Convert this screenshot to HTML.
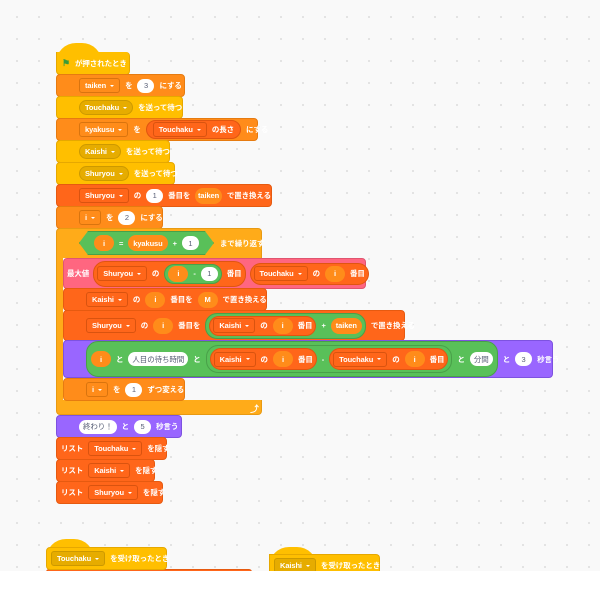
<!DOCTYPE html>
<html><head><meta charset="utf-8"><style>
*{box-sizing:border-box;margin:0;padding:0}
body{width:600px;height:600px;overflow:hidden;background:#fff;font-family:"Liberation Sans","Noto Sans CJK JP",sans-serif;font-weight:bold;font-size:7.5px;color:#fff;letter-spacing:-0.1px}
#cv{position:absolute;left:0;top:0;width:600px;height:571px;background-color:#f9f9f9;background-image:radial-gradient(#dcdcdc 0.8px,transparent 1px);background-size:22px 22px;background-position:6px 6px}
.b{position:absolute;display:flex;align-items:center;gap:5px;white-space:nowrap;border-radius:4px}
.y{background:#ffbf00;border:1px solid #e6a800}
.c{background:#ffab19;border:1px solid #e89a12}
.v{background:#ff8c1a;border:1px solid #e67b10}
.l{background:#ff661a;border:1px solid #e65a10}
.p{background:#9966ff;border:1px solid #7d52e0}
.k{background:#ff6680;border:1px solid #e05570}
.dd{display:inline-flex;align-items:center;height:15px;padding:0 5px;border-radius:3px;gap:4px}
.dd:after{content:"";border-left:2.5px solid transparent;border-right:2.5px solid transparent;border-top:2.5px solid #fff}
.dl{background:#ff661a;border:1px solid #d9530f}
.dv{background:#ff8c1a;border:1px solid #d9740e}
.dy{background:#e6ac00;border:1px solid #cc9900;border-radius:8px}
.n{display:inline-flex;align-items:center;justify-content:center;height:14px;min-width:17px;padding:0 4px;border-radius:7px;background:#fff;color:#575e75;font-weight:normal}
.r{display:inline-flex;align-items:center;justify-content:center;height:16px;min-width:20px;padding:0 5px;border-radius:8px;background:#ff8c1a}
.g{display:inline-flex;align-items:center;gap:5px;padding:2px 3px;border-radius:12px;background:#59c059;border:1px solid #49a049}
.ol{display:inline-flex;align-items:center;gap:5px;padding:2px 3px;border-radius:12px;background:#ff661a;border:1px solid #e05510}
</style></head><body>
<div id="cv"></div>
<!-- hat -->
<div class="b y" style="left:56px;top:43px;width:46px;height:20px;border-radius:23px 23px 0 0;border:none"></div>
<div class="b y" style="left:56px;top:52px;width:74px;height:23px;border-top:none;border-radius:0 4px 4px 4px;padding-left:5px"><span style="color:#3a9b3a;font-size:9px">⚑</span> が押されたとき</div>
<div class="b v" style="left:56px;top:74px;width:129px;height:23px;padding-left:22px"><span class="dd dv">taiken</span>を<span class="n">3</span>にする</div>
<div class="b y" style="left:56px;top:96px;width:127px;height:23px;padding-left:22px"><span class="dd dy">Touchaku</span>を送って待つ</div>
<div class="b v" style="left:56px;top:118px;width:202px;height:23px;padding-left:22px"><span class="dd dv">kyakusu</span>を<span class="ol" style="padding:1px 6px"><span class="dd dl">Touchaku</span>の長さ</span>にする</div>
<div class="b y" style="left:56px;top:140px;width:114px;height:23px;padding-left:22px"><span class="dd dy">Kaishi</span>を送って待つ</div>
<div class="b y" style="left:56px;top:162px;width:119px;height:23px;padding-left:22px"><span class="dd dy">Shuryou</span>を送って待つ</div>
<div class="b l" style="left:56px;top:184px;width:216px;height:23px;padding-left:22px"><span class="dd dl">Shuryou</span>の<span class="n">1</span>番目を<span class="r">taiken</span>で置き換える</div>
<div class="b v" style="left:56px;top:206px;width:107px;height:23px;padding-left:22px"><span class="dd dv">i</span>を<span class="n">2</span>にする</div>
<!-- repeat -->
<div class="b c" style="left:56px;top:228px;width:206px;height:187px;border-radius:4px"></div>
<div class="b" style="left:63px;top:258px;width:199px;height:142px;background:#f9f9f9;border-radius:0"></div>
<div class="b" style="left:79px;top:231px;gap:6px"><span class="g" style="clip-path:polygon(9px 0,calc(100% - 9px) 0,100% 50%,calc(100% - 9px) 100%,9px 100%,0 50%);padding:3px 14px;border-radius:0"><span class="r">i</span>=<span class="r">kyakusu</span>+<span class="n">1</span></span>まで繰り返す</div>
<div class="b" style="left:250px;top:402px;font-size:9px">⤴</div>
<div class="b k" style="left:63px;top:258px;width:303px;height:31px;padding-left:3px;gap:4px">最大値<span class="ol"><span class="dd dl">Shuryou</span>の<span class="g" style="padding:1px 3px"><span class="r">i</span>-<span class="n">1</span></span>番目</span><span class="ol"><span class="dd dl">Touchaku</span>の<span class="r">i</span>番目</span></div>
<div class="b l" style="left:63px;top:288px;width:204px;height:23px;padding-left:22px"><span class="dd dl">Kaishi</span>の<span class="r">i</span>番目を<span class="r">M</span>で置き換える</div>
<div class="b l" style="left:63px;top:310px;width:342px;height:31px;padding-left:22px"><span class="dd dl">Shuryou</span>の<span class="r">i</span>番目を<span class="g"><span class="ol" style="padding:1px 3px"><span class="dd dl">Kaishi</span>の<span class="r">i</span>番目</span>+<span class="r">taiken</span></span>で置き換える</div>
<div class="b p" style="left:63px;top:340px;width:490px;height:38px;padding-left:22px"><span class="g" style="padding:3px 4px"><span class="r">i</span>と<span class="n">人目の待ち時間</span>と<span class="g" style="padding:2px 3px"><span class="ol"><span class="dd dl">Kaishi</span>の<span class="r">i</span>番目</span>-<span class="ol"><span class="dd dl">Touchaku</span>の<span class="r">i</span>番目</span></span>と<span class="n">分間</span></span>と<span class="n">3</span>秒言う</div>
<div class="b v" style="left:63px;top:378px;width:122px;height:23px;padding-left:22px"><span class="dd dv">i</span>を<span class="n">1</span>ずつ変える</div>
<div class="b p" style="left:56px;top:415px;width:126px;height:23px;padding-left:22px"><span class="n">終わり！</span>と<span class="n">5</span>秒言う</div>
<div class="b l" style="left:56px;top:437px;width:111px;height:23px;padding-left:4px">リスト<span class="dd dl">Touchaku</span>を隠す</div>
<div class="b l" style="left:56px;top:459px;width:99px;height:23px;padding-left:4px">リスト<span class="dd dl">Kaishi</span>を隠す</div>
<div class="b l" style="left:56px;top:481px;width:107px;height:23px;padding-left:4px">リスト<span class="dd dl">Shuryou</span>を隠す</div>
<!-- bottom hats -->
<div class="b y" style="left:46px;top:539px;width:48px;height:20px;border-radius:23px 23px 0 0;border:none"></div>
<div class="b l" style="left:46px;top:569px;width:206px;height:6px"></div>
<div class="b y" style="left:46px;top:547px;width:121px;height:23px;padding-left:4px"><span class="dd dy" style="border-radius:3px">Touchaku</span>を受け取ったとき</div>
<div class="b y" style="left:269px;top:547px;width:48px;height:20px;border-radius:23px 23px 0 0;border:none"></div>
<div class="b y" style="left:269px;top:554px;width:111px;height:17px;padding:5px 0 0 4px;border-bottom:none;border-radius:0 4px 0 0"><span class="dd dy" style="border-radius:3px">Kaishi</span>を受け取ったとき</div>
<div style="position:absolute;left:0;top:571px;width:600px;height:29px;background:#fff"></div>
</body></html>
